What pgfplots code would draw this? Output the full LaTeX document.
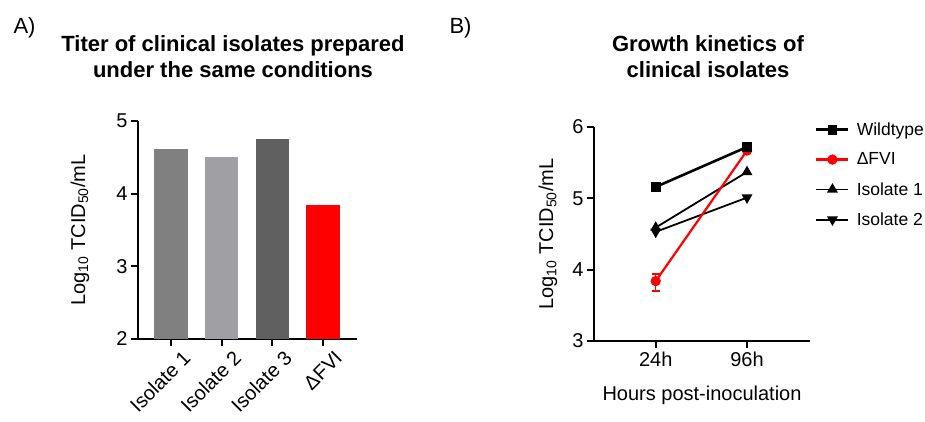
\documentclass[border=0pt]{standalone}
\usepackage{fontspec}
\setmainfont{Liberation Sans}
\usepackage{pgfplots}
\pgfplotsset{compat=1.18}

\definecolor{isoA}{HTML}{808080}
\definecolor{isoB}{HTML}{A0A0A4}
\definecolor{isoC}{HTML}{606060}
\definecolor{fvired}{HTML}{FF0000}

\pgfplotsset{
  panel/.style={
    scale only axis,
    anchor=south west,
    axis lines=left,
    axis line style={-, line width=1.8pt},
    tick align=outside,
    major tick length=7pt,
    tick style={line width=1.8pt, black},
    xtick pos=left, ytick pos=left,
    tick label style={font=\fontsize{20}{24}\selectfont},
    label style={font=\fontsize{20}{24}\selectfont},
    /pgf/number format/assume math mode=true,
  },
  wt/.style={black, line width=2.6pt, mark=square*, mark size=3.6pt, mark options={solid}},
  fvi/.style={fvired, line width=2.2pt, mark=*, mark size=4pt, mark options={solid}},
  isoone/.style={black, line width=1.8pt, mark=triangle*, mark size=4.5pt, mark options={solid}},
  isotwo/.style={black, line width=1.8pt, mark=triangle*, mark size=4.5pt, mark options={solid, rotate=180}},
}

\begin{document}
\begin{tikzpicture}
\path[use as bounding box] (0,0) rectangle (925pt,421pt);

% panel letters and titles
\node[anchor=west, font=\fontsize{22}{26}\selectfont] at (10pt,393pt) {A)};
\node[anchor=west, font=\fontsize{22}{26}\selectfont] at (446pt,393pt) {B)};
\node[align=center, font=\fontsize{22}{26}\selectfont\bfseries] at (233pt,364pt)
  {Titer of clinical isolates prepared\\under the same conditions};
\node[align=center, font=\fontsize{22}{26}\selectfont\bfseries] at (708pt,364pt)
  {Growth kinetics of\\clinical isolates};

% A) bar chart
\begin{axis}[panel,
  at={(138pt,82pt)},
  width=219pt, height=218pt,
  xmin=-0.65, xmax=3.67,
  ymin=2, ymax=5,
  ytick={2,3,4,5},
  xtick={0,1,2,3},
  xticklabels={Isolate 1, Isolate 2, Isolate 3, ΔFVI},
  xticklabel style={rotate=45, anchor=north east, inner sep=0pt, yshift=-10pt, xshift=5pt},
  ylabel={Log\textsubscript{10} TCID\textsubscript{50}/mL},
  ylabel style={at={(axis description cs:-0.265,0.5)}, anchor=center},
]
\addplot[ybar, bar width=0.66, fill=isoA, draw=none] coordinates {(0,4.61)};
\addplot[ybar, bar width=0.66, fill=isoB, draw=none] coordinates {(1,4.50)};
\addplot[ybar, bar width=0.66, fill=isoC, draw=none] coordinates {(2,4.75)};
\addplot[ybar, bar width=0.66, fill=fvired, draw=none] coordinates {(3,3.84)};
\end{axis}

% B) growth kinetics
\begin{axis}[panel,
  at={(594pt,80pt)},
  width=216pt, height=214pt,
  xmin=-0.676, xmax=1.69,
  ymin=3, ymax=6,
  ytick={3,4,5,6},
  xtick={0,1},
  xticklabels={24h,96h},
  xlabel={Hours post-inoculation},
  xlabel style={at={(axis description cs:0.5,-0.252)}, anchor=center},
  ylabel={Log\textsubscript{10} TCID\textsubscript{50}/mL},
  ylabel style={at={(axis description cs:-0.213,0.5)}, anchor=center},
  legend image code/.code={\draw[mark repeat=2, mark phase=2, #1] plot coordinates {(0pt,0pt) (16pt,0pt) (32pt,0pt)};},
  legend style={draw=none, fill=none, at={(axis description cs:1.009,1.04)}, anchor=north west,
    font=\fontsize{17.5}{21}\selectfont, row sep=12pt,
    /tikz/every odd column/.style={column sep=5pt}},
  legend cell align=left,
]
\addlegendimage{wt}\addlegendentry{Wildtype}
\addlegendimage{fvi}\addlegendentry{ΔFVI}
\addlegendimage{isoone}\addlegendentry{Isolate 1}
\addlegendimage{isotwo}\addlegendentry{Isolate 2}

\addplot[isotwo, forget plot] coordinates {(0,4.53) (1,5.01)};
\addplot[isoone, forget plot] coordinates {(0,4.59) (1,5.37)};
\addplot[fvi, forget plot,
  error bars/.cd, y dir=both, y explicit,
  error bar style={line width=1.2pt, fvired},
  error mark options={rotate=90, mark size=4pt, fvired, line width=1.2pt}]
  coordinates {(0,3.84) += (0,0.10) -= (0,0.14) (1,5.67) +- (0,0)};
\addplot[wt, forget plot] coordinates {(0,5.16) (1,5.72)};
\end{axis}
\end{tikzpicture}
\end{document}
